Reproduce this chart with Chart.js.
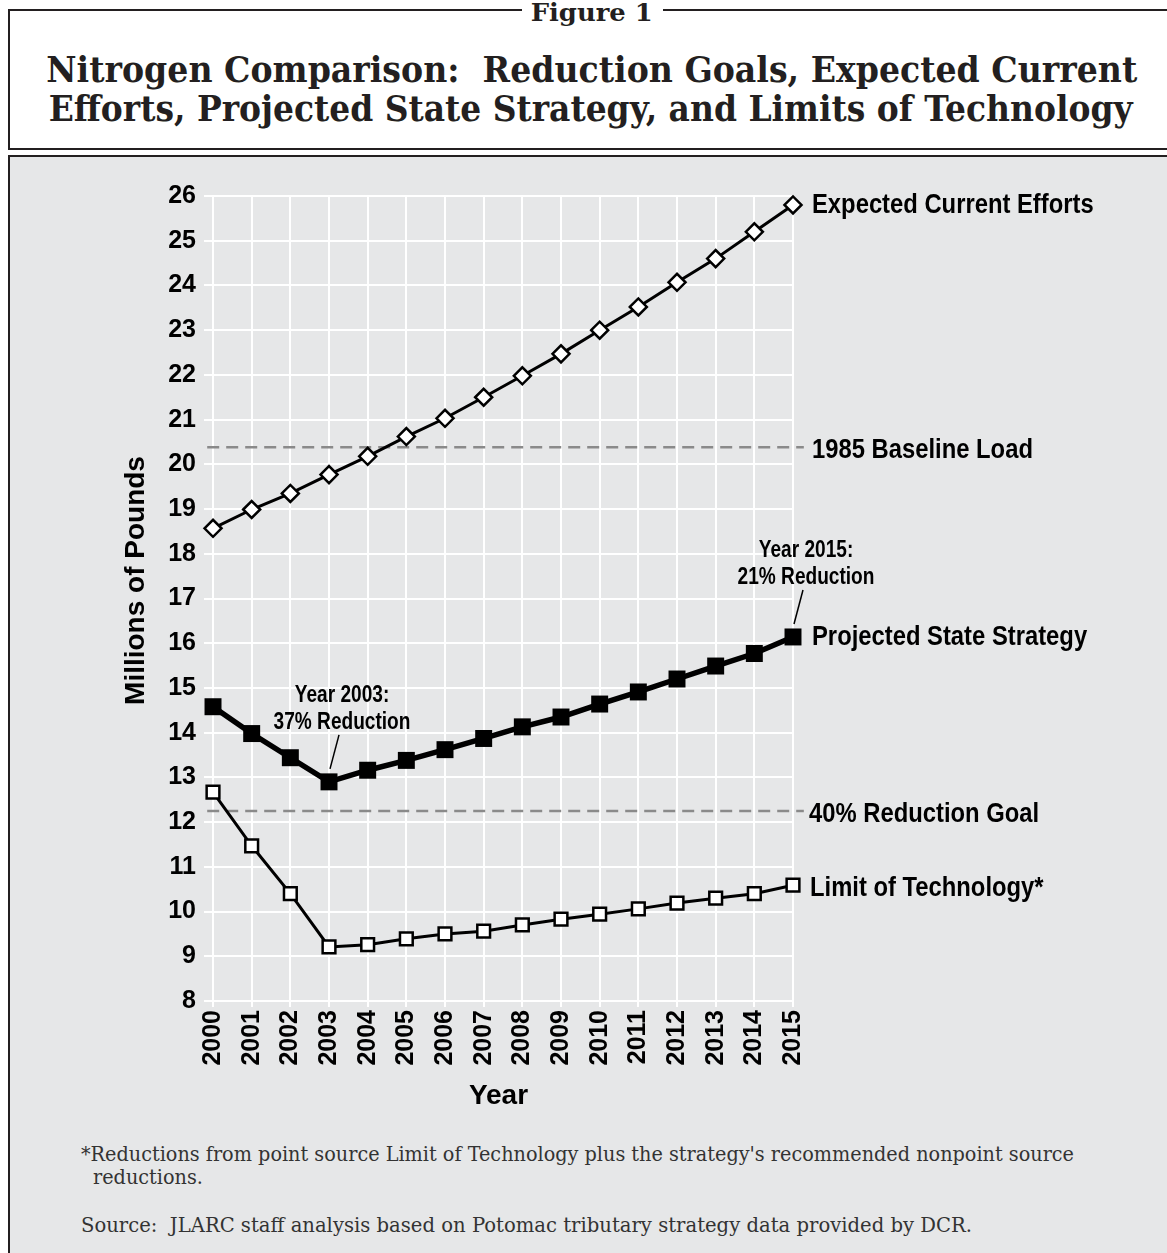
<!DOCTYPE html>
<html>
<head>
<meta charset="utf-8">
<title>Nitrogen Comparison</title>
<script src="https://cdn.jsdelivr.net/npm/chart.js@4.4.1/dist/chart.umd.min.js"></script>
<style>
  body { margin: 0; width: 1167px; height: 1253px; background: #fff; position: relative; overflow: hidden; }
  .rule { position: absolute; background: #231f20; }
  .serif { position: absolute; font-family: 'DejaVu Serif', serif; color: #231f20; white-space: nowrap; line-height: 1; }
  .fit { display: inline-block; }
  #panel { position: absolute; left: 8px; top: 155px; width: 1170px; height: 1110px; background: #e6e7e8;
           border-top: 2px solid #231f20; border-left: 2px solid #231f20; }
  #chart { position: absolute; left: 10px; top: 157px; }
</style>
</head>
<body>
<div class="rule" style="left:8px;top:9px;width:514px;height:2px"></div>
<div class="rule" style="left:663px;top:9px;width:504px;height:2px"></div>
<div class="rule" style="left:8px;top:9px;width:2px;height:141px"></div>
<div class="rule" style="left:8px;top:148px;width:1159px;height:2px"></div>
<div class="serif" style="left:0;width:1184px;top:1px;text-align:center;font-size:24px;font-weight:bold">
  <span class="fit" id="figLabel">Figure 1</span></div>
<div class="serif" style="left:0;width:1183px;top:52px;text-align:center;font-size:35px;font-weight:bold">
  <span class="fit" id="title1">Nitrogen Comparison:&nbsp; Reduction Goals, Expected Current</span></div>
<div class="serif" style="left:0;width:1181px;top:91px;text-align:center;font-size:35px;font-weight:bold">
  <span class="fit" id="title2">Efforts, Projected State Strategy, and Limits of Technology</span></div>

<div id="panel"></div>
<canvas id="chart" width="1157" height="959"></canvas>

<div class="serif" style="left:81px;top:1144px;font-size:20px;color:#333">
  <span class="fit" id="note1">*Reductions from point source Limit of Technology plus the strategy's recommended nonpoint source</span></div>
<div class="serif" style="left:93px;top:1167px;font-size:20px;color:#333">
  <span class="fit" id="note2">reductions.</span></div>
<div class="serif" style="left:81px;top:1215px;font-size:20px;color:#333">
  <span class="fit" id="note3">Source:&nbsp; JLARC staff analysis based on Potomac tributary strategy data provided by DCR.</span></div>

<script>
// data (millions of pounds of nitrogen)
const years = [2000, 2001, 2002, 2003, 2004, 2005, 2006, 2007, 2008, 2009, 2010, 2011, 2012, 2013, 2014, 2015];
const expectedCurrent = [18.57, 18.99, 19.35, 19.77, 20.18, 20.62, 21.03, 21.5, 21.98, 22.47, 23.0, 23.52, 24.07, 24.6, 25.2, 25.8];
const projectedStrategy = [14.58, 13.98, 13.44, 12.9, 13.16, 13.38, 13.62, 13.87, 14.13, 14.35, 14.64, 14.91, 15.2, 15.49, 15.77, 16.14];
const limitOfTech = [12.67, 11.47, 10.4, 9.21, 9.26, 9.39, 9.5, 9.56, 9.7, 9.83, 9.94, 10.06, 10.19, 10.3, 10.4, 10.59];
const baselineLoad = 20.38;
const reductionGoal = 12.25;
const yMin = 8, yMax = 26;

// dashed reference lines run a little past the first and last year
const refFrom = 1999.85, refTo = 2015.28;

const FONT = '"Liberation Sans", Arial, sans-serif';

function fit(id, target) {
  const el = document.getElementById(id);
  const w = el.getBoundingClientRect().width;
  el.style.transformOrigin = 'left center';
  el.style.transform = 'scaleX(' + (target / w) + ')';
  return target / w;
}
function fitCenter(id, target) {
  const el = document.getElementById(id);
  const w = el.getBoundingClientRect().width;
  el.style.transformOrigin = 'center center';
  el.style.transform = 'scaleX(' + (target / w) + ')';
}
fitCenter('figLabel', 122);
fitCenter('title1', 1091);
fitCenter('title2', 1084);
const s = fit('note1', 993);
document.getElementById('note2').style.transformOrigin = 'left center';
document.getElementById('note2').style.transform = 'scaleX(' + s + ')';
fit('note3', 891);

const pts = vals => years.map((yr, i) => ({ x: yr, y: vals[i] }));

function squeezeText(ctx, txt, x, y, size, squeeze, align) {
  ctx.save();
  ctx.translate(x, y);
  ctx.scale(squeeze, 1);
  ctx.font = 'bold ' + size + 'px ' + FONT;
  ctx.textAlign = align;
  ctx.textBaseline = 'alphabetic';
  ctx.fillText(txt, 0, 0);
  ctx.restore();
}

const overlay = {
  id: 'overlay',
  afterDatasetsDraw(chart) {
    const { ctx, scales: { x, y }, chartArea } = chart;
    const last = years.length - 1;
    const endX = x.getPixelForValue(years[last]);
    ctx.save();
    ctx.fillStyle = '#000';

    // series labels at the right end
    squeezeText(ctx, 'Expected Current Efforts', endX + 19, y.getPixelForValue(expectedCurrent[last]) + 8, 28, 0.85, 'left');
    squeezeText(ctx, '1985 Baseline Load', endX + 19, y.getPixelForValue(baselineLoad) + 11, 28, 0.85, 'left');
    squeezeText(ctx, 'Projected State Strategy', endX + 19, y.getPixelForValue(projectedStrategy[last]) + 8, 28, 0.85, 'left');
    squeezeText(ctx, '40% Reduction Goal', endX + 16, y.getPixelForValue(reductionGoal) + 11, 28, 0.85, 'left');
    squeezeText(ctx, 'Limit of Technology*', endX + 17, y.getPixelForValue(limitOfTech[last]) + 11, 28, 0.85, 'left');

    // callouts on the state strategy line
    const callout = (i, l1, l2) => {
      const px = x.getPixelForValue(years[i]);
      const py = y.getPixelForValue(projectedStrategy[i]);
      squeezeText(ctx, l1, px + 13, py - 80, 23, 0.83, 'center');
      squeezeText(ctx, l2, px + 13, py - 53, 23, 0.83, 'center');
      ctx.beginPath();
      ctx.moveTo(px + 10, py - 47);
      ctx.lineTo(px + 1, py - 13);
      ctx.strokeStyle = '#000';
      ctx.lineWidth = 1.5;
      ctx.stroke();
    };
    callout(3, 'Year 2003:', '37% Reduction');
    callout(last, 'Year 2015:', '21% Reduction');

    // y axis title
    ctx.save();
    ctx.translate(chartArea.left - 60, (chartArea.top + chartArea.bottom) / 2 - 18);
    ctx.rotate(-Math.PI / 2);
    ctx.font = 'bold 28px ' + FONT;
    ctx.textAlign = 'center';
    ctx.textBaseline = 'alphabetic';
    ctx.fillText('Millions of Pounds', 0, 0);
    ctx.restore();
    ctx.restore();
  }
};

new Chart(document.getElementById('chart'), {
  type: 'line',
  data: {
    datasets: [
      {
        label: 'Expected Current Efforts',
        data: pts(expectedCurrent),
        borderColor: '#000', borderWidth: 3, clip: false,
        pointStyle: 'rectRot', pointRadius: 8.5, pointHoverRadius: 8.5,
        pointBackgroundColor: '#fff', pointBorderColor: '#000', pointBorderWidth: 2.5
      },
      {
        label: 'Projected State Strategy',
        data: pts(projectedStrategy),
        borderColor: '#000', borderWidth: 5.5, clip: false,
        pointStyle: 'rect', pointRadius: 12, pointHoverRadius: 12,
        pointBackgroundColor: '#000', pointBorderColor: '#000', pointBorderWidth: 0
      },
      {
        label: 'Limit of Technology*',
        data: pts(limitOfTech),
        borderColor: '#000', borderWidth: 3, clip: false,
        pointStyle: 'rect', pointRadius: 9, pointHoverRadius: 9,
        pointBackgroundColor: '#fff', pointBorderColor: '#000', pointBorderWidth: 2.5
      },
      {
        label: '1985 Baseline Load',
        data: [{ x: refFrom, y: baselineLoad }, { x: refTo, y: baselineLoad }],
        borderColor: '#8a8a8a', borderWidth: 2.5, borderDash: [12, 7],
        pointRadius: 0, pointHoverRadius: 0, clip: false
      },
      {
        label: '40% Reduction Goal',
        data: [{ x: refFrom, y: reductionGoal }, { x: refTo, y: reductionGoal }],
        borderColor: '#8a8a8a', borderWidth: 2.5, borderDash: [12, 7],
        pointRadius: 0, pointHoverRadius: 0, clip: false
      }
    ]
  },
  options: {
    responsive: false,
    animation: false,
    events: [],
    layout: { padding: { left: 0, top: 39, right: 374, bottom: 0 } },
    plugins: { legend: { display: false }, tooltip: { enabled: false } },
    scales: {
      x: {
        type: 'linear',
        min: 1999.767,
        max: 2015,
        afterBuildTicks: sc => { sc.ticks = years.map(v => ({ value: v })); },
        afterFit: sc => { sc.height = 115; },
        ticks: {
          autoSkip: false, minRotation: 90, maxRotation: 90, padding: 3,
          color: '#000', font: { family: FONT, size: 25, weight: 'bold' },
          callback: v => String(v)
        },
        grid: { color: '#fff', lineWidth: 2, tickLength: 6, tickColor: '#fff' },
        border: { display: false },
        title: {
          display: true, text: 'Year', color: '#000',
          font: { family: FONT, size: 28, weight: 'bold' },
          padding: { top: 0, bottom: 3 }
        }
      },
      y: {
        min: yMin,
        max: yMax,
        afterFit: sc => { sc.width = 194; },
        ticks: {
          stepSize: 1, padding: 8, color: '#000',
          font: { family: FONT, size: 25, weight: 'bold' }
        },
        grid: { color: '#fff', lineWidth: 2, drawTicks: false },
        border: { display: false }
      }
    }
  },
  plugins: [overlay]
});
</script>
</body>
</html>
